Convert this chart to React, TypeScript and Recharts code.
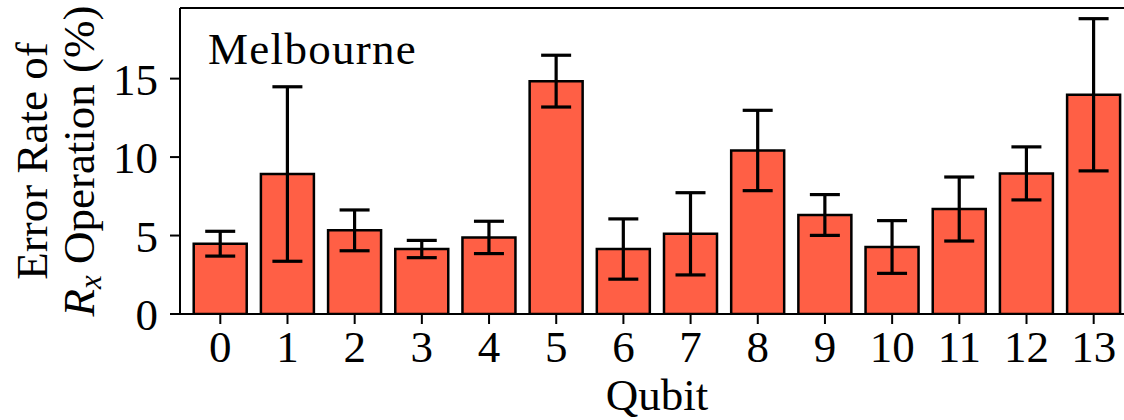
import React from 'react';
import {
    BarChart,
    Bar,
    XAxis,
    YAxis,
    ErrorBar,
    ReferenceLine
} from 'recharts';

// Values
const qubits = [0, 1, 2, 3, 4, 5, 6, 7, 8, 9, 10, 11, 12, 13];
const errorRates = [4.48, 8.92, 5.33, 4.14, 4.88, 14.84, 4.14, 5.11, 10.42, 6.31, 4.27, 6.69, 8.96, 13.97];
const errorStd = [0.79, 5.56, 1.3, 0.55, 1.03, 1.65, 1.92, 2.62, 2.56, 1.3, 1.68, 2.04, 1.69, 4.85];
const yTicks = [0, 5, 10, 15];
const deviceName = 'Melbourne';

const FONT = '"Liberation Serif", "Times New Roman", serif';
const FONT_SIZE = 45;

const data = qubits.map((q, i) => ({
    qubit: q,
    rate: errorRates[i],
    err: errorStd[i]
}));

// Two-line y label plus the device name inside the plot
const YLabel = () => (
    <g fontFamily={FONT} fontSize={FONT_SIZE} fill="#000">
        <text transform="rotate(-90)" x={-161} y={47} textAnchor="middle">
            Error Rate of
        </text>
        <text transform="rotate(-90)" x={-161} y={94} textAnchor="middle">
            <tspan fontStyle="italic">R</tspan>
            <tspan fontStyle="italic" fontSize={31} dy={7}>x</tspan>
            <tspan dy={-7}> Operation (%)</tspan>
        </text>
        <text x={208} y={64} letterSpacing={1.3}>{deviceName}</text>
    </g>
);

const XLabel = () => (
    <text x={657} y={410} textAnchor="middle" fontFamily={FONT} fontSize={FONT_SIZE} fill="#000">
        Qubit
    </text>
);

const tickStyle = { fontFamily: FONT, fontSize: FONT_SIZE, fill: '#000' };

export default function App() {
    return (
        <div style={{ position: 'absolute', left: 0, top: 0, width: 1124, height: 420, overflow: 'hidden', background: '#fff' }}>
            <BarChart
                width={1150}
                height={420}
                data={data}
                margin={{ top: 8, right: 16, left: 0, bottom: 0 }}
            >
                <XAxis
                    dataKey="qubit"
                    type="number"
                    domain={[-0.6, 13.6]}
                    allowDataOverflow
                    ticks={qubits}
                    interval={0}
                    height={106}
                    tickSize={10}
                    tickMargin={6}
                    tick={tickStyle}
                    axisLine={{ stroke: '#000', strokeWidth: 2 }}
                    tickLine={{ stroke: '#000', strokeWidth: 2 }}
                    label={{ content: () => <XLabel /> }}
                />
                <YAxis
                    type="number"
                    domain={[0, 19.5]}
                    allowDataOverflow
                    ticks={yTicks}
                    width={180}
                    tickSize={10}
                    tickMargin={12}
                    tick={tickStyle}
                    axisLine={{ stroke: '#000', strokeWidth: 2 }}
                    tickLine={{ stroke: '#000', strokeWidth: 2 }}
                    label={{ content: () => <YLabel /> }}
                />
                <ReferenceLine y={19.5} stroke="#000" strokeWidth={2} />
                <Bar
                    dataKey="rate"
                    fill="#FF5F45"
                    stroke="#000"
                    strokeWidth={2.5}
                    barSize={53}
                    isAnimationActive={false}
                >
                    <ErrorBar
                        dataKey="err"
                        direction="y"
                        width={15}
                        stroke="#000"
                        strokeWidth={3.2}
                        isAnimationActive={false}
                    />
                </Bar>
            </BarChart>
        </div>
    );
}
